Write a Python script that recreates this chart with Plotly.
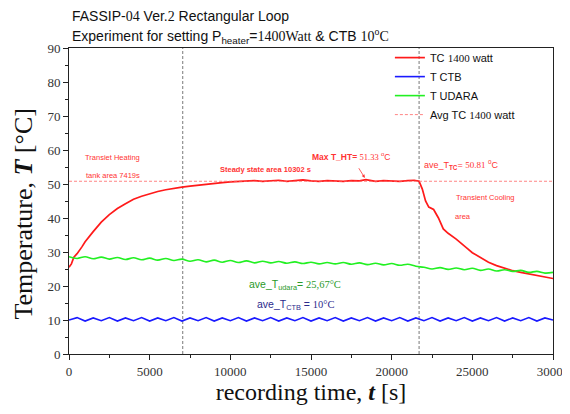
import plotly.graph_objects as go

SANS = "Liberation Sans, Arial, sans-serif"
SERIF = "Liberation Serif, Times New Roman, serif"

def serif(s):
    return f'<span style="font-family:{SERIF}">{s}</span>'

# ---- data ----
red_time = [0, 150, 300, 500, 800, 1000, 1500, 2000, 2500, 3000, 3500, 4000, 4500, 5000,
            5500, 6000, 6500, 7000, 7500, 8000, 8500, 9000, 9500, 10000, 10500, 11000,
            11500, 12000, 12500, 13000, 13500, 14000, 14500, 15000, 15500, 16000, 16500,
            17000, 17500, 18000, 18400, 18800, 19000, 19500, 20000, 20500, 21000, 21400,
            21700, 21900, 22100, 22300, 22600, 22900, 23200, 23500, 24000, 24300, 24700,
            25000, 25500, 26000, 26500, 27000, 27500, 28000, 28500, 29000, 29500, 30000]
red_temp = [25.5, 26.5, 28.5, 29.5, 31.5, 33.0, 36.0, 38.8, 41.0, 42.8, 44.2, 45.5, 46.4, 47.2,
            47.8, 48.3, 48.8, 49.1, 49.4, 49.7, 49.9, 50.2, 50.4, 50.6, 50.7, 50.9,
            51.0, 50.8, 51.0, 51.1, 50.8, 51.0, 51.2, 50.9, 50.8, 51.0, 50.9,
            50.8, 51.0, 50.9, 51.3, 50.9, 50.8, 51.0, 50.9, 50.8, 51.0, 51.1,
            50.8, 48.5, 45.0, 43.2, 42.5, 40.0, 36.8, 35.5, 33.8, 32.5, 31.0,
            29.8, 28.3, 27.0, 26.0, 25.2, 24.5, 24.0, 23.6, 23.1, 22.6, 22.2]

wave_time = list(range(0, 30001, 500))
udara_temp = [28.6, 28.1, 28.6, 28.0, 28.5, 27.9, 28.4, 27.8, 28.3, 27.7, 28.2, 27.6, 28.1, 27.5,
              27.9, 27.3, 27.7, 27.1, 27.6, 27.0, 27.5, 26.9, 27.4, 26.8, 27.3, 26.8, 27.2,
              26.7, 27.1, 26.6, 27.0, 26.5, 26.9, 26.5, 26.9, 26.4, 26.8, 26.3, 26.7, 26.2,
              26.6, 26.1, 26.4, 25.8, 25.5, 25.0, 25.4, 24.9, 25.3, 24.8, 25.2, 24.6, 25.0,
              24.4, 24.8, 24.3, 24.6, 24.0, 24.3, 23.8, 24.0]
ctb_temp = [10.0, 10.7, 9.7, 10.6, 9.8, 10.7, 9.7, 10.6, 9.8, 10.7, 9.7, 10.6, 9.8, 10.7,
            9.7, 10.6, 9.8, 10.7, 9.7, 10.6, 9.8, 10.7, 9.7, 10.6, 9.8, 10.7, 9.7,
            10.6, 9.8, 10.7, 9.7, 10.6, 9.8, 10.7, 9.7, 10.6, 9.8, 10.7, 9.7, 10.6,
            9.8, 10.7, 9.7, 10.6, 9.8, 10.7, 9.7, 10.6, 9.8, 10.7, 9.7, 10.6, 9.8,
            10.7, 9.7, 10.6, 9.8, 10.7, 9.7, 10.6, 10.0]

avg_tc = 50.81
max_ht = (18400, 51.3)
phase_boundaries_s = [7050, 21700]

x_ticks = [0, 5000, 10000, 15000, 20000, 25000, 30000]
x_ticktext = ["0", "5000", "10000", "15000", "20000", "25000", "30000"]
y_ticks = [0, 10, 20, 30, 40, 50, 60, 70, 80, 90]

fig = go.Figure()
fig.add_trace(go.Scatter(x=red_time, y=red_temp, mode="lines",
                         name="TC " + serif("1400") + " watt",
                         line=dict(color="#ff1a1a", width=1.7)))
fig.add_trace(go.Scatter(x=wave_time, y=ctb_temp, mode="lines", name="T CTB",
                         line=dict(color="#1a1aff", width=1.6)))
fig.add_trace(go.Scatter(x=wave_time, y=udara_temp, mode="lines", name="T UDARA",
                         line=dict(color="#22f022", width=1.6, shape="spline")))
fig.add_trace(go.Scatter(x=[wave_time[0], wave_time[-1]], y=[avg_tc, avg_tc], mode="lines",
                         name="Avg TC " + serif("1400") + " watt",
                         line=dict(color="#ff6666", width=0.8, dash="3px,2px")))

for xb in phase_boundaries_s:
    fig.add_shape(type="line", x0=xb, x1=xb, y0=0, y1=90, xref="x", yref="y",
                  line=dict(color="#555555", width=0.8, dash="3px,2px"), layer="below")

red_small = dict(family=SANS, size=7.5, color="#ff3333")
ann = [
    dict(x=2700, y=57.9, text="Transiet Heating", font=red_small),
    dict(x=2750, y=52.6, text="tank area 7419s", font=red_small),
    dict(x=12150, y=54.4, text="<b>Steady state area 10302 s</b>", font=red_small),
    dict(x=25800, y=45.9, text="Transient Cooling", font=red_small),
    dict(x=24450, y=40.3, text="area", font=red_small),
    dict(x=24300, y=55.6,
         text="ave_T<sub><b>TC</b></sub>= " + serif("50.81") + " <sup>o</sup>C",
         font=dict(family=SANS, size=9, color="#ff3333")),
    dict(x=14000, y=20.3,
         text="ave_T<sub>udara</sub>= " + serif("25,67°C"),
         font=dict(family=SANS, size=10.5, color="#2a9a2a")),
    dict(x=14050, y=14.4,
         text="ave_T<sub>CTB</sub> = " + serif("10°C"),
         font=dict(family=SANS, size=10.5, color="#2b2b8c")),
]
annotations = [dict(xref="x", yref="y", showarrow=False, **a) for a in ann]
annotations.append(dict(x=max_ht[0], y=max_ht[1], xref="x", yref="y",
                        ax=17500, ay=58.2, axref="x", ayref="y",
                        text="<b>Max T_HT=</b> " + serif("51.33") + " <sup>o</sup>C",
                        font=dict(family=SANS, size=8.5, color="#ff3333"),
                        showarrow=True, arrowhead=2, arrowsize=0.8, arrowwidth=0.8,
                        arrowcolor="#ff3333", standoff=2, startstandoff=6))
annotations.append(dict(xref="paper", yref="paper", x=0.002, y=1.105, xanchor="left",
                        yanchor="middle", showarrow=False,
                        text="FASSIP-" + serif("04") + " Ver." + serif("2") + " Rectangular Loop",
                        font=dict(family=SANS, size=14, color="#111111")))
annotations.append(dict(xref="paper", yref="paper", x=0.002, y=1.040, xanchor="left",
                        yanchor="middle", showarrow=False,
                        text="Experiment for setting P<sub>heater</sub>=" + serif("1400Watt")
                             + " & CTB " + serif("10<sup>o</sup>C"),
                        font=dict(family=SANS, size=14, color="#111111")))
# y-axis title as rotated text so its centre can be placed like the reference
annotations.append(dict(xref="paper", yref="paper", x=-0.096, y=0.4575,
                        xanchor="center", yanchor="middle", textangle=-90, showarrow=False,
                        text="Temperature, <b><i>T</i></b> [°C]",
                        font=dict(family=SERIF, size=26, color="#111111")))

axis_common = dict(showline=True, linecolor="#222222", linewidth=1, showgrid=False,
                   zeroline=False, tickcolor="#222222", automargin=False)

# page body has an 8px margin: plot area lands at page x 69-553, y 48-354
fig.update_layout(
    width=554, height=398,
    margin=dict(l=61, r=9, t=40, b=52),
    paper_bgcolor="white", plot_bgcolor="white",
    showlegend=True,
    legend=dict(x=0.663, y=1.016, xanchor="left", yanchor="top", bgcolor="rgba(0,0,0,0)",
                font=dict(family=SANS, size=11, color="#111111"),
                tracegroupgap=0, itemwidth=30),
    annotations=annotations,
    xaxis=dict(range=[0, 30000], tickvals=x_ticks, ticktext=x_ticktext,
               ticks="outside", ticklen=5, ticklabeloverflow="allow",
               minor=dict(ticks="outside", ticklen=3, dtick=2500, tickcolor="#222222"),
               tickfont=dict(family=SERIF, size=13, color="#333333"),
               title=dict(text="recording time, <b><i>t</i></b> [s]",
                          font=dict(family=SERIF, size=24, color="#111111"), standoff=5),
               mirror=True, **axis_common),
    yaxis=dict(range=[0, 90], tickvals=y_ticks, ticks="outside", ticklen=5,
               minor=dict(ticks="outside", ticklen=3, dtick=5, tickcolor="#222222"),
               tickfont=dict(family=SERIF, size=13, color="#333333"),
               mirror=True, **axis_common),
    xaxis2=dict(overlaying="x", matches="x", side="top", anchor="y", range=[0, 30000],
                tickvals=x_ticks, ticks="inside", ticklen=5, showticklabels=False,
                minor=dict(ticks="inside", ticklen=3, dtick=2500, tickcolor="#222222"),
                **axis_common),
    yaxis2=dict(overlaying="y", matches="y", side="right", anchor="x", range=[0, 90],
                tickvals=y_ticks, ticks="inside", ticklen=5, showticklabels=False,
                minor=dict(ticks="inside", ticklen=3, dtick=5, tickcolor="#222222"),
                **axis_common),
)

fig.write_html("out.html")
